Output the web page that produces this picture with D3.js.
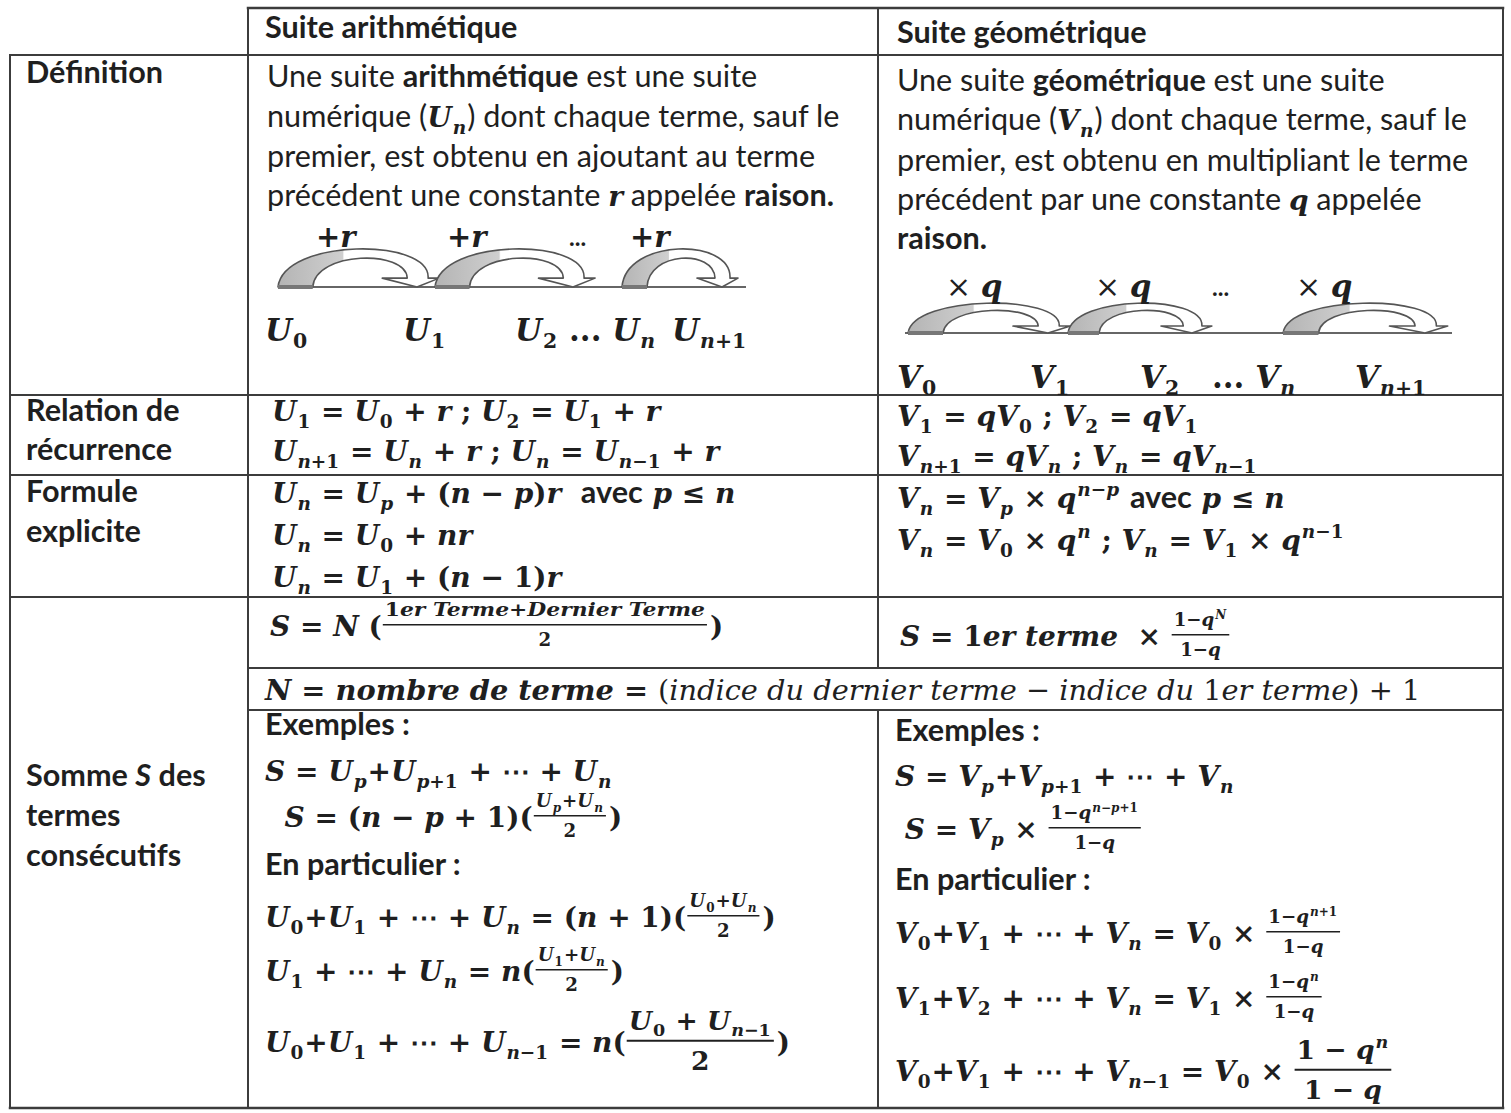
<!DOCTYPE html>
<html>
<head>
<meta charset="utf-8">
<script src="https://cdn.jsdelivr.net/npm/d3@7"></script>
<style>
  html, body { margin: 0; padding: 0; background: #fff; }
  text { white-space: pre; }
</style>
</head>
<body>
<script>
// ---- content ----
// markup: _x / _{..} subscript, ^x / ^{..} superscript, \f{num}{den} small fraction,
// \w{num}{den} small fraction with stretched numerator, \F{num}{den} big fraction,
// $ toggles math font, * toggles bold, ~ toggles italic
const colHeaders = ["Suite arithmétique", "Suite géométrique"];

const rowLabels = [
  ["Définition"],
  ["Relation de", "récurrence"],
  ["Formule", "explicite"],
  ["Somme ~S~ des", "termes", "consécutifs"]
];

const defArith = [
  "Une suite *arithmétique* est une suite",
  "numérique ($*U_n*$) dont chaque terme, sauf le",
  "premier, est obtenu en ajoutant au terme",
  "précédent une constante $*r*$ appelée *raison.*"
];
const defGeo = [
  "Une suite *géométrique* est une suite",
  "numérique ($*V_n*$) dont chaque terme, sauf le",
  "premier, est obtenu en multipliant le terme",
  "précédent par une constante $*q*$ appelée",
  "*raison.*"
];

const arithSteps = ["+r", "+r", "+r"];
const arithNodes = ["U_0", "U_1", "U_2 ... U_n", "U_{n+1}"];
const geoSteps = ["q", "q", "q"];
const geoNodes = ["V_0", "V_1", "V_2", "... V_n", "V_{n+1}"];

const relArith = [
  "U_1 = U_0 + r ; U_2 = U_1 + r",
  "U_{n+1} = U_n + r ; U_n = U_{n−1} + r"
];
const relGeo = [
  "V_1 = qV_0 ; V_2 = qV_1",
  "V_{n+1} = qV_n ; V_n = qV_{n−1}"
];

const formArith = [
  "U_n = U_p + (n − p)r  $avec$ p ≤ n",
  "U_n = U_0 + nr",
  "U_n = U_1 + (n − 1)r"
];
const formGeo = [
  "V_n = V_p × q^{n−p} $avec$ p ≤ n",
  "V_n = V_0 × q^n ; V_n = V_1 × q^{n−1}"
];

const sumArith = ["S = N (\\w{1er Terme+Dernier Terme}{2})"];
const sumGeo = ["S = 1er terme  × \\f{1−q^N}{1−q}"];
const nLine = ["N = nombre de terme = *(indice du dernier terme − indice du 1er terme) + 1"];

const exArith = [
  "$Exemples :$",
  "S = U_p+U_{p+1} + ⋯ + U_n",
  "  S = (n − p + 1)(\\f{U_p+U_n}{2})",
  "$En particulier :$",
  "U_0+U_1 + ⋯ + U_n = (n + 1)(\\f{U_0+U_n}{2})",
  "U_1 + ⋯ + U_n = n(\\f{U_1+U_n}{2})",
  "U_0+U_1 + ⋯ + U_{n−1} = n(\\F{U_0 + U_{n−1}}{2})"
];
const exGeo = [
  "$Exemples :$",
  "S = V_p+V_{p+1} + ⋯ + V_n",
  " S = V_p × \\f{1−q^{n−p+1}}{1−q}",
  "$En particulier :$",
  "V_0+V_1 + ⋯ + V_n = V_0 × \\f{1−q^{n+1}}{1−q}",
  "V_1+V_2 + ⋯ + V_n = V_1 × \\f{1−q^n}{1−q}",
  "V_0+V_1 + ⋯ + V_{n−1} = V_0 × \\F{1 − q^n}{1 − q}"
];

// ---- layout ----
const W = 1511, H = 1113;
const INK = "#1f1f1f";
const RULE = "#3c3c3c";
const FONT_TEXT = "Lato, 'Open Sans', sans-serif";
const FONT_MATH = "'DejaVu Serif', 'Liberation Serif', serif";
const TXT = 30.6; // text size
const MTH = 28;   // math size

const colX = [10, 248, 878, 1503];
const topY = 8;
const rowY = [55, 395, 475, 597, 1108];
const sumSplit = [668, 710];

const svg = d3.select("body").append("svg")
  .attr("width", W).attr("height", H)
  .style("display", "block")
  .style("background", "#fff");

// ---- rich text ----
function parse(s) {
  let i = 0;
  function group(end) {
    const out = [];
    let buf = "";
    const flush = () => { if (buf) { out.push({t: "s", v: buf}); buf = ""; } };
    while (i < s.length) {
      const c = s[i];
      if (c === end) { i++; break; }
      if (c === "_" || c === "^") { flush(); i++; out.push({t: c, v: arg()}); }
      else if (c === "\\") { flush(); const k = s[i + 1]; i += 2; const a = arg(), b = arg(); out.push({t: k, num: a, den: b}); }
      else if (c === "$" || c === "*" || c === "~") { flush(); out.push({t: c}); i++; }
      else { buf += c; i++; }
    }
    flush();
    return out;
  }
  function arg() {
    if (s[i] === "{") { i++; return group("}"); }
    return [{t: "s", v: s[i++]}];
  }
  return group(null);
}

const LETTER = /[A-Za-zÀ-ÿ]/;
function drawRun(g, str, x, y, size, st) {
  const parts = st.math ? str.match(/[A-Za-zÀ-ÿ]+|[^A-Za-zÀ-ÿ]+/g) : [str];
  for (const p of parts) {
    const italic = st.math ? LETTER.test(p) : st.italic;
    const t = g.append("text")
      .attr("x", x).attr("y", y)
      .attr("font-family", st.math ? FONT_MATH : FONT_TEXT)
      .attr("font-size", st.math ? size : size * TXT / MTH)
      .attr("font-weight", st.bold ? 700 : 400)
      .attr("font-style", italic ? "italic" : "normal")
      .attr("fill", INK)
      .text(p);
    x += t.node().getComputedTextLength();
  }
  return x;
}

function render(g, nodes, x, y, size, st) {
  st = Object.assign({}, st);
  for (const n of nodes) {
    if (n.t === "$") st.math = !st.math;
    else if (n.t === "*") st.bold = !st.bold;
    else if (n.t === "~") st.italic = !st.italic;
    else if (n.t === "s") x = drawRun(g, n.v, x, y, size, st);
    else if (n.t === "_") x = render(g, n.v, x + 1, y + size * 0.24, size * 0.66, st) + 1;
    else if (n.t === "^") x = render(g, n.v, x + 1, y - size * 0.42, size * 0.66, st) + 1;
    else if (n.t === "f" || n.t === "F" || n.t === "w") x = fraction(g, n, x, y, size, st, n.t);
  }
  return x;
}

function fraction(g, n, x, y, size, st, kind) {
  const big = kind === "F";
  const fs = big ? size * 0.95 : size * 0.65;
  const sx = kind === "w" ? 1.2 : 1;
  const gn = g.append("g"), gd = g.append("g");
  const wn = render(gn, n.num, 0, 0, fs, st) * sx;
  const wd = render(gd, n.den, 0, 0, fs, st);
  const w = Math.max(wn, wd) + 6;
  const axis = y - size * 0.4;
  gn.attr("transform", `translate(${x + (w - wn) / 2},${axis - fs * 0.3 - 3}) scale(${sx},1)`);
  gd.attr("transform", `translate(${x + (w - wd) / 2},${axis + fs * 0.95 + 4})`);
  g.append("line")
    .attr("x1", x + 1).attr("x2", x + w - 1)
    .attr("y1", axis).attr("y2", axis)
    .attr("stroke", INK).attr("stroke-width", big ? 2 : 1.5);
  return x + w + 2;
}

// text lines: size is given in text units for text cells, math units for math cells
function drawLines(lines, x, ys, opts) {
  const g = svg.append("g");
  const size = opts.math ? opts.size : opts.size * MTH / TXT;
  lines.forEach((s, i) => {
    render(g, parse(s), x, ys[i], size,
      {math: !!opts.math, bold: opts.bold !== false, italic: false});
  });
  return g;
}

// ---- grid ----
const hRules = [
  {y: topY, x1: colX[1], x2: colX[3], w: 2.5},
  {y: rowY[0], x1: colX[0], x2: colX[3], w: 2},
  {y: rowY[1], x1: colX[0], x2: colX[3], w: 2},
  {y: rowY[2], x1: colX[0], x2: colX[3], w: 2},
  {y: rowY[3], x1: colX[0], x2: colX[3], w: 2},
  {y: sumSplit[0], x1: colX[1], x2: colX[3], w: 2},
  {y: sumSplit[1], x1: colX[1], x2: colX[3], w: 2},
  {y: rowY[4], x1: colX[0], x2: colX[3], w: 2.5}
];
const vRules = [
  {x: colX[0], y1: rowY[0], y2: rowY[4]},
  {x: colX[1], y1: topY, y2: rowY[4]},
  {x: colX[2], y1: topY, y2: sumSplit[0]},
  {x: colX[2], y1: sumSplit[1], y2: rowY[4]},
  {x: colX[3], y1: topY, y2: rowY[4]}
];

svg.append("g").selectAll("line").data(hRules).join("line")
  .attr("x1", d => d.x1).attr("x2", d => d.x2)
  .attr("y1", d => d.y).attr("y2", d => d.y)
  .attr("stroke", RULE).attr("stroke-width", d => d.w)
  .attr("stroke-linecap", "square");
svg.append("g").selectAll("line").data(vRules).join("line")
  .attr("x1", d => d.x).attr("x2", d => d.x)
  .attr("y1", d => d.y1).attr("y2", d => d.y2)
  .attr("stroke", RULE).attr("stroke-width", 2)
  .attr("stroke-linecap", "square");

// ---- headers and row labels ----
drawLines([colHeaders[0]], 265, [38], {size: TXT});
drawLines([colHeaders[1]], 897, [43], {size: TXT});

const labelY = [[83], [421, 460], [502, 542], [786, 826, 866]];
rowLabels.forEach((lines, i) => drawLines(lines, 26, labelY[i], {size: TXT}));

// ---- définition ----
drawLines(defArith, 267, [87, 127, 167, 206], {size: TXT, bold: false});
drawLines(defGeo, 897, [91, 130, 171, 210, 249], {size: TXT, bold: false});

// ---- step diagrams ----
const defs = svg.append("defs");
const grad = defs.append("linearGradient").attr("id", "shade")
  .attr("x1", 0).attr("x2", 1).attr("y1", 0).attr("y2", 0);
[[0, "#b4b4b4"], [0.4, "#cfcfcf"], [0.41, "#fff"], [1, "#fff"]].forEach(([o, c]) =>
  grad.append("stop").attr("offset", o).attr("stop-color", c));

function arrowPath(a, yb, h) {
  const L = a.tip - a.x0, w = L * 0.25;
  const p = d3.path();
  p.moveTo(a.x0, yb);
  p.bezierCurveTo(a.x0 + L * 0.04, yb - h * 1.32, a.tip + L * 0.1, yb - h * 1.34, a.tip + L * 0.08, yb - h * 0.24);
  p.lineTo(a.tip + L * 0.16, yb - h * 0.24);
  p.lineTo(a.tip, yb);
  p.lineTo(a.tip - L * 0.25, yb - h * 0.24);
  p.lineTo(a.tip - L * 0.07, yb - h * 0.24);
  p.bezierCurveTo(a.tip - L * 0.08, yb - h * 1.02, a.x0 + w + L * 0.02, yb - h * 0.97, a.x0 + w, yb);
  p.closePath();
  return p.toString();
}

function diagram(arcs, yb, h, x1, x2) {
  const g = svg.append("g");
  g.append("line").attr("x1", x1).attr("x2", x2).attr("y1", yb).attr("y2", yb)
    .attr("stroke", "#666").attr("stroke-width", 2);
  g.selectAll("path").data(arcs).join("path")
    .attr("d", d => arrowPath(d, yb, h))
    .attr("fill", "url(#shade)")
    .attr("stroke", "#555").attr("stroke-width", 1.6)
    .attr("stroke-linejoin", "round");
  g.selectAll("rect").data(arcs).join("rect")
    .attr("x", d => d.x0).attr("y", yb - 2)
    .attr("width", d => (d.tip - d.x0) * 0.25).attr("height", 4)
    .attr("fill", "#777");
}

const arithArcs = [{x0: 278, tip: 417}, {x0: 435, tip: 573}, {x0: 622, tip: 722}];
diagram(arithArcs, 287, 37, 278, 746);
const stepX = [316, 447, 630];
arithSteps.forEach((s, i) => drawLines([s], stepX[i], [247], {size: 29, math: true}));
drawLines(["..."], 569, [246], {size: 24});
const arithNodeX = [265, 403, 515, 672];
arithNodes.forEach((s, i) => drawLines([s], arithNodeX[i], [341], {size: 31, math: true}));

const geoArcs = [{x0: 908, tip: 1048}, {x0: 1068, tip: 1192}, {x0: 1283, tip: 1425}];
diagram(geoArcs, 333, 29, 905, 1452);
const geoStepX = [946, 1095, 1296];
geoSteps.forEach((s, i) => {
  const g = svg.append("g");
  const x = drawRun(g, "× ", geoStepX[i], 297, 30, {math: true, bold: false});
  drawRun(g, s, x, 297, 31, {math: true, bold: true});
});
drawLines(["..."], 1212, [296], {size: 24});
const geoNodeX = [897, 1030, 1140, 1212, 1355];
geoNodes.forEach((s, i) => drawLines([s], geoNodeX[i], [388], {size: 31, math: true}));

// ---- relation, formule ----
drawLines(relArith, 272, [421, 461], {size: MTH, math: true});
drawLines(relGeo, 897, [426, 466], {size: MTH, math: true});
drawLines(formArith, 272, [503, 545, 587], {size: MTH, math: true});
drawLines(formGeo, 897, [508, 550], {size: MTH, math: true});

// ---- somme ----
drawLines(sumArith, 270, [636], {size: MTH, math: true});
drawLines(sumGeo, 900, [646], {size: MTH, math: true});
drawLines(nLine, 265, [700], {size: 28.8, math: true});
drawLines(exArith, 265, [735, 781, 827, 875, 927, 981, 1052], {size: MTH, math: true});
drawLines(exGeo, 895, [741, 786, 839, 890, 943, 1008, 1081], {size: MTH, math: true});
</script>
</body>
</html>
